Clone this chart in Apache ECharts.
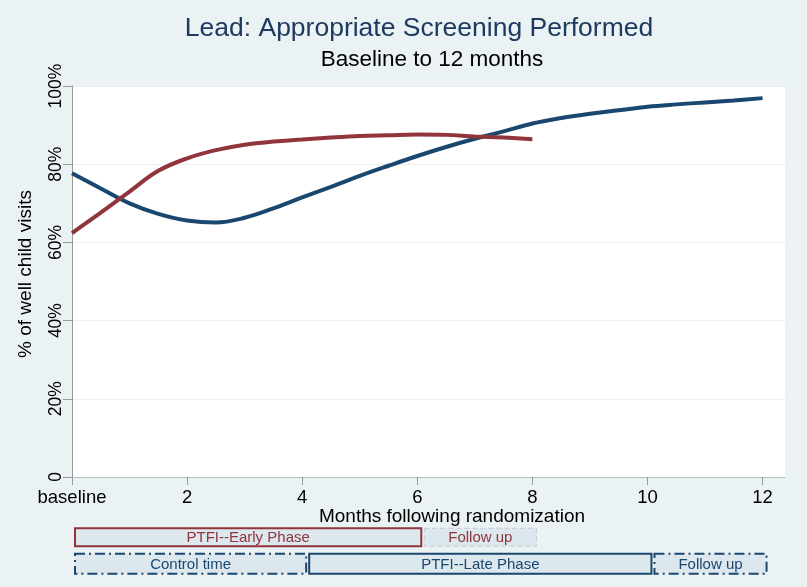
<!DOCTYPE html>
<html><head><meta charset="utf-8">
<script src="https://cdn.jsdelivr.net/npm/echarts@6/dist/echarts.min.js"></script>
<style>html,body{margin:0;padding:0;background:#eaf2f3}#c{width:807px;height:587px}</style>
</head><body><div id="c"></div>
<script>
// Months following randomization
const months = [0,0.5,1,1.5,2,2.5,3,3.5,4,4.5,5,5.5,6,6.5,7,7.5,8,8.5,9,9.5,10,10.5,11,11.5,12];
// Late-phase group (navy), % of well child visits
const lateGroup = [77.7,73.8,70.0,67.3,65.6,65.1,66.3,68.7,71.5,74.2,77.0,79.6,82.1,84.4,86.5,88.4,90.4,91.8,92.9,93.8,94.7,95.3,95.8,96.3,96.9];
// Early-phase group (maroon), months 0..8
const earlyGroup = [62.4,67.6,73.0,78.3,81.5,83.6,85.0,85.8,86.3,86.8,87.2,87.4,87.6,87.5,87.1,86.8,86.4];
const xTicks = [0,2,4,6,8,10,12];
const xTickLabels = ['baseline','2','4','6','8','10','12'];
const yTicks = [0,20,40,60,80,100];
const yTickLabels = ['0','20%','40%','60%','80%','100%'];
// Phase boxes under the chart
const phaseRows = ['early','late'];
const phaseLabels = ['PTFI--Early Phase','Follow up','Control time','PTFI--Late Phase','Follow up'];
const phaseStart = [0,6,0,4,10];
const phaseEnd = [6,8,4,10,12];
const phaseRow = [0,0,1,1,1];

const NAVY = '#1a476f', MAROON = '#90353b';
const FONT = '"Liberation Sans", Arial, sans-serif';
const boxStyles = [
  {stroke: MAROON, lineWidth: 2, lineDash: null, color: MAROON},
  {stroke: '#c3c9ce', lineWidth: 1, lineDash: [5,3], color: MAROON},
  {stroke: NAVY, lineWidth: 2, lineDash: [10,4,2,4], color: NAVY},
  {stroke: NAVY, lineWidth: 2, lineDash: null, color: NAVY},
  {stroke: NAVY, lineWidth: 2, lineDash: [10,4,2,4], color: NAVY}
];

const chart = echarts.init(document.getElementById('c'), null, {renderer: 'canvas'});
chart.setOption({
  animation: false,
  backgroundColor: '#eaf2f3',
  textStyle: {fontFamily: FONT},
  title: [
    {
      text: 'Lead: Appropriate Screening Performed',
      left: 414, top: 10, textAlign: 'center',
      textStyle: {fontSize: 26.5, fontWeight: 'normal', color: '#1f3a60', fontFamily: FONT}
    },
    {
      text: 'Baseline to 12 months',
      left: 427, top: 43, textAlign: 'center',
      textStyle: {fontSize: 22.5, fontWeight: 'normal', color: '#000', fontFamily: FONT}
    }
  ],
  grid: [
    {left: 72, right: 22, top: 86, bottom: 110, show: true, backgroundColor: '#ffffff', borderWidth: 0},
    {left: 72, right: 22, top: 524, height: 53}
  ],
  xAxis: [
    {
      gridIndex: 0, type: 'value', min: 0, max: 12.39,
      axisLine: {show: true, lineStyle: {color: '#b4bcc0'}},
      axisTick: {show: true, length: 8, customValues: xTicks, lineStyle: {color: '#999'}},
      axisLabel: {customValues: xTicks, formatter: v => xTickLabels[xTicks.indexOf(v)], fontSize: 18.5, color: '#000', margin: 11},
      splitLine: {show: false},
      name: 'Months following randomization', nameLocation: 'middle', nameGap: 30, nameMoveOverlap: false,
      nameTextStyle: {fontSize: 19, color: '#000', padding: [0,0,0,47]}
    },
    {gridIndex: 1, type: 'value', min: 0, max: 12.39, show: false}
  ],
  yAxis: [
    {
      gridIndex: 0, type: 'value', min: 0, max: 100, interval: 20,
      axisLine: {show: true, lineStyle: {color: '#999'}},
      axisTick: {show: true, length: 9, lineStyle: {color: '#999'}},
      axisLabel: {rotate: 90, fontSize: 17.5, color: '#000', margin: 7, formatter: v => yTickLabels[yTicks.indexOf(v)]},
      splitLine: {show: true, lineStyle: {color: '#eaf0f2'}},
      name: '% of well child visits', nameLocation: 'middle', nameGap: 37, nameMoveOverlap: false,
      nameTextStyle: {fontSize: 19, color: '#000', padding: [0,0,0,15]}
    },
    {gridIndex: 1, type: 'category', data: phaseRows, inverse: true, show: false}
  ],
  series: [
    {
      type: 'line', xAxisIndex: 0, yAxisIndex: 0, showSymbol: false, smooth: 0.4,
      data: months.map((m, i) => [m, lateGroup[i]]),
      lineStyle: {color: NAVY, width: 4}, itemStyle: {color: NAVY}, z: 3
    },
    {
      type: 'line', xAxisIndex: 0, yAxisIndex: 0, showSymbol: false, smooth: 0.4,
      data: earlyGroup.map((v, i) => [months[i], v]),
      lineStyle: {color: MAROON, width: 4}, itemStyle: {color: MAROON}, z: 4
    },
    {
      type: 'custom', xAxisIndex: 1, yAxisIndex: 1, silent: true,
      data: phaseLabels.map((l, i) => [phaseStart[i], phaseEnd[i], phaseRow[i], i]),
      renderItem: function (params, api) {
        const s = api.value(0), e = api.value(1), row = api.value(2), idx = api.value(3);
        const p0 = api.coord([s, row]), p1 = api.coord([e, row]);
        const st = boxStyles[idx];
        const x0 = p0[0] + (s === 0 ? 3 : 7), x1 = p1[0] + 4;
        const h = row === 0 ? 18 : 20;
        return {
          type: 'group',
          children: [
            {type: 'rect', shape: {x: x0, y: p0[1] - h / 2, width: x1 - x0, height: h},
             style: {fill: '#dde7ee', stroke: st.stroke, lineWidth: st.lineWidth, lineDash: st.lineDash}},
            {type: 'text', style: {text: phaseLabels[idx], x: (x0 + x1) / 2, y: p0[1] + 1,
             textAlign: 'center', textVerticalAlign: 'middle', align: 'center', verticalAlign: 'middle',
             fill: st.color, fontSize: 15, fontFamily: FONT}}
          ]
        };
      }
    }
  ]
});
</script></body></html>
